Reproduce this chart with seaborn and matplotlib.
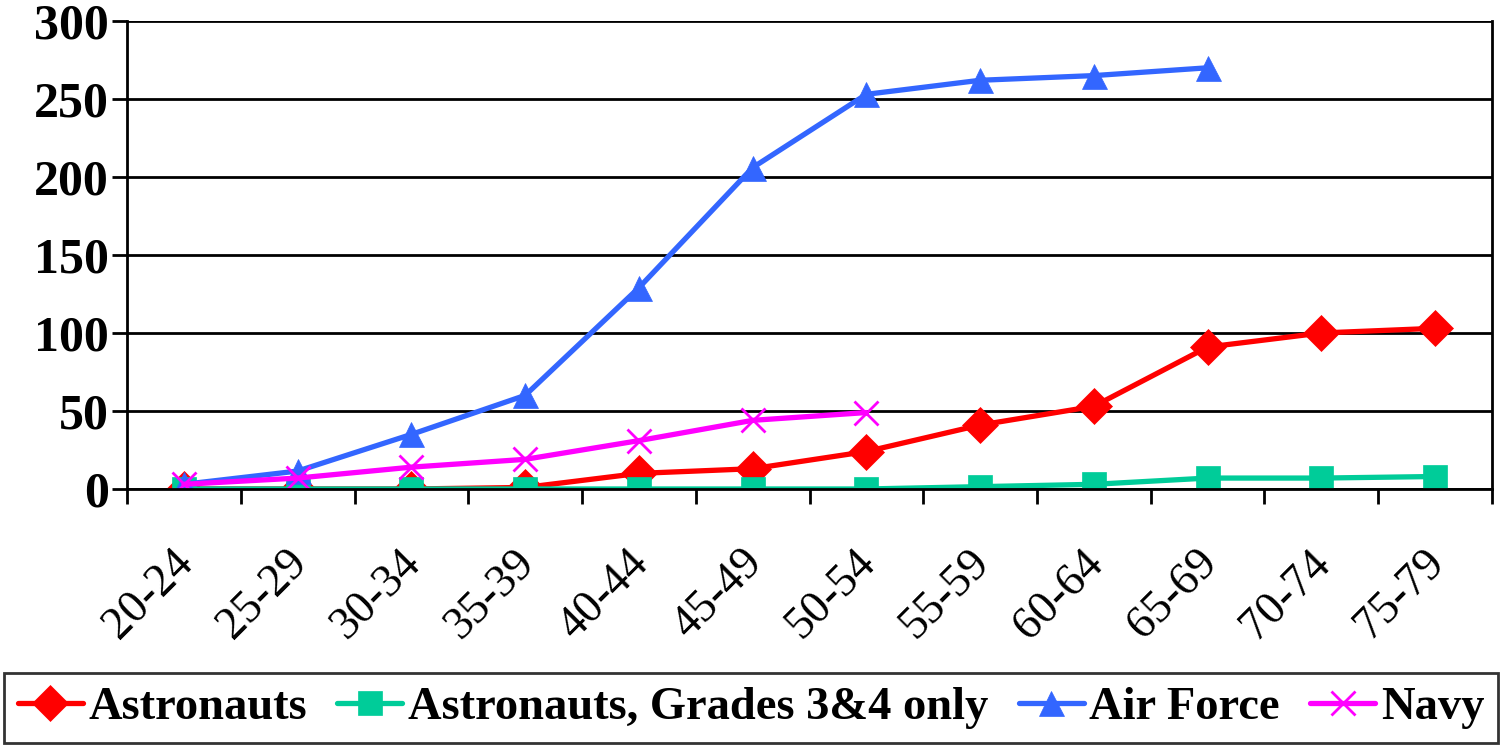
import numpy as np
import pandas as pd
import matplotlib
matplotlib.use("Agg")
import matplotlib.pyplot as plt
import matplotlib.transforms as mtrans
import seaborn as sns

# age groups and series values
age_groups = ["20-24", "25-29", "30-34", "35-39", "40-44", "45-49",
              "50-54", "55-59", "60-64", "65-69", "70-74", "75-79"]
astronauts = [0, 0, 0, 1, 10, 13, 24, 41, 53, 91, 100, 103]
astro_grades34 = [0, 0, 0, 0, 0, 0, 0, 1.5, 3, 7, 7, 8]
air_force = [3, 11.5, 35, 60, 129, 206, 253, 262, 265, 270, np.nan, np.nan]
navy = [3, 7, 14, 19, 31, 44, 49, np.nan, np.nan, np.nan, np.nan, np.nan]

series = [
    ("Astronauts", astronauts, "#FF0000", "D", 18),
    ("Astronauts, Grades 3&4 only", astro_grades34, "#00CC99", "s", 17),
    ("Air Force", air_force, "#3366FF", "^", 18),
    ("Navy", navy, "#FF00FF", "x", 17),
]

sns.set_style("white")
plt.rcParams['font.family'] = ['Liberation Serif', 'DejaVu Serif']
plt.rcParams['text.color'] = 'black'
plt.rcParams['xtick.color'] = 'black'
plt.rcParams['ytick.color'] = 'black'

fig = plt.figure(figsize=(15.02, 7.47), dpi=100)
ax = fig.add_axes([0.0846, 0.3454, 0.9087, 0.6265])

for name, vals, color, marker, ms in series:
    df = pd.DataFrame({"pos": np.arange(len(age_groups)), "value": vals}).dropna()
    sns.lineplot(data=df, x="pos", y="value", ax=ax, color=color, lw=3.8,
                 marker=marker, markersize=ms, markeredgecolor=color,
                 markeredgewidth=2 if marker == "x" else 0.5, label=name,
                 legend=False)

ax.set_xlim(-0.5, len(age_groups) - 0.5)
ax.set_ylim(0, 300)
ax.set_yticks(range(0, 301, 50))
ax.set_yticklabels([str(v) for v in range(0, 301, 50)], fontsize=36,
                   fontweight="bold")
ax.set_xticks(np.arange(len(age_groups)))
ax.set_xticklabels(age_groups, rotation=45, ha="right", rotation_mode="anchor",
                   fontsize=33)
ax.set_xticks(np.arange(-0.5, len(age_groups), 1), minor=True)
ax.tick_params(axis="x", which="major", length=0, pad=38)
ax.tick_params(axis="x", which="minor", length=11, width=2, color="black",
               direction="out", bottom=True)
ax.tick_params(axis="y", length=11, width=2, color="black", direction="out",
               left=True, pad=2)
ax.set_xlabel("")
ax.set_ylabel("")
ax.grid(axis="y", color="black", lw=2)
ax.set_axisbelow(True)
for side in ["left", "right", "bottom"]:
    ax.spines[side].set_color("black")
    ax.spines[side].set_linewidth(2)
ax.spines["top"].set_visible(False)

# shift rotated labels a bit left so they end just left of each category
offset = mtrans.ScaledTranslation(-12 / 100, 0, fig.dpi_scale_trans)
for lab in ax.get_xticklabels():
    lab.set_transform(lab.get_transform() + offset)

handles, labels = ax.get_legend_handles_labels()
leg = fig.legend(handles, labels, loc="lower center", bbox_to_anchor=(0.5, 0.005),
                 ncol=4, frameon=True, fancybox=False, edgecolor="black",
                 prop={"weight": "bold", "size": 33.5}, handlelength=1.4,
                 handletextpad=0.12, columnspacing=0.65, borderpad=0.3,
                 borderaxespad=0)
leg.get_frame().set_linewidth(2)

fig.savefig("out.png", dpi=100, facecolor="white")
